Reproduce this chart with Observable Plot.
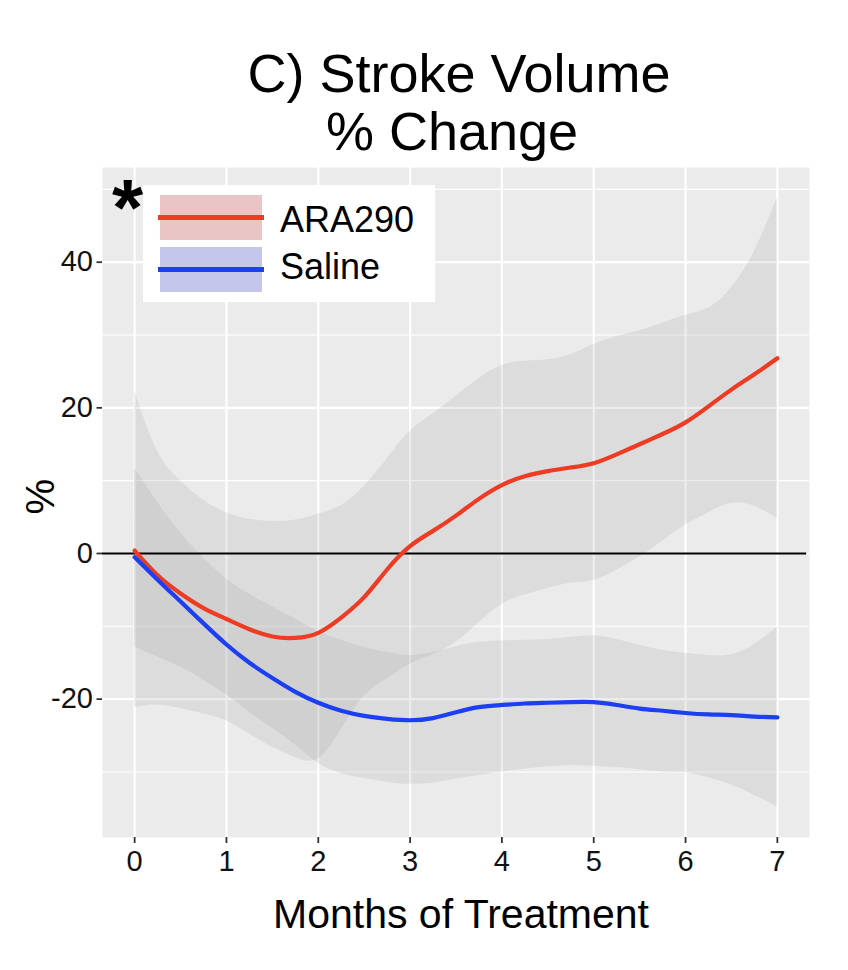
<!DOCTYPE html>
<html>
<head>
<meta charset="utf-8">
<script src="https://cdn.jsdelivr.net/npm/d3@7"></script>
<script src="https://cdn.jsdelivr.net/npm/@observablehq/plot@0.6"></script>
<style>
  html, body { margin: 0; padding: 0; background: #ffffff; }
  #page { position: relative; width: 848px; height: 970px; font-family: "Liberation Sans", Arial, Helvetica, sans-serif; color: #000; }
  .tline { position: absolute; width: 600px; text-align: center; font-size: 54px; line-height: 58px; white-space: nowrap; }
  #chart { position: absolute; left: 0; top: 160px; }
  #legend { position: absolute; left: 143px; top: 185px; width: 292px; height: 117px; background: #ffffff; }
  .key { position: absolute; left: 17px; width: 102px; height: 45px; }
  .keyline { position: absolute; left: 15px; width: 106px; height: 5px; }
  .lab { position: absolute; left: 137px; font-size: 36px; line-height: 36px; white-space: nowrap; }
  #star { position: absolute; left: 112px; top: 168px; font-size: 80px; line-height: 80px; font-weight: bold; }
</style>
</head>
<body>
<div id="page">
  <div class="tline" style="left:159px; top:44px;">C) Stroke Volume</div>
  <div class="tline" style="left:152px; top:102px;">% Change</div>
  <div id="chart"></div>
  <div id="star">*</div>
  <div id="legend"></div>
</div>
<script>
// ---- data ----
const months   = [0, 0.25, 0.5, 0.75, 1, 1.25, 1.5, 1.75, 2, 2.25, 2.5, 2.75, 3, 3.25, 3.5, 3.75, 4, 4.25, 4.5, 4.75, 5, 5.25, 5.5, 5.75, 6, 6.25, 6.5, 6.75, 7];
const araMean  = [0.4, -3, -5.5, -7.5, -9, -10.4, -11.4, -11.6, -10.9, -8.8, -6, -2.2, 1.0, 3.1, 5.2, 7.5, 9.4, 10.6, 11.3, 11.8, 12.4, 13.6, 15, 16.4, 18, 20.2, 22.5, 24.6, 26.8];
const araHigh  = [22.3, 14, 10, 7.3, 5.6, 4.7, 4.4, 4.6, 5.4, 6.6, 9.2, 13, 16.8, 19.2, 21.6, 24, 25.8, 26.4, 26.6, 27.3, 28.7, 29.8, 30.6, 31.6, 32.7, 33.7, 36.5, 41.5, 48.8];
const araLow   = [-21.2, -20.8, -21.3, -22, -23, -24.8, -26.6, -28, -28.2, -24.2, -19.6, -17.2, -15.2, -13.9, -12.2, -9.5, -7, -5.7, -4.8, -4.1, -3.7, -2.3, -0.5, 1.7, 3.9, 5.6, 6.9, 6.5, 4.8];
const salMean  = [-0.5, -3.6, -6.6, -9.6, -12.5, -15, -17.1, -19, -20.5, -21.6, -22.3, -22.7, -22.9, -22.6, -21.8, -21.1, -20.8, -20.6, -20.5, -20.4, -20.4, -20.8, -21.3, -21.6, -21.9, -22.1, -22.2, -22.4, -22.5];
const salHigh  = [11.7, 7, 2.8, -0.6, -3.5, -5.6, -7.3, -9, -10.7, -11.9, -12.9, -13.6, -14, -13.6, -12.8, -12.2, -12, -11.9, -11.8, -11.5, -11.3, -11.8, -12.6, -13.3, -13.7, -14, -13.9, -12.5, -10.1];
const salLow   = [-12.8, -14.2, -15.6, -17.4, -19.4, -21.8, -24, -26.3, -28.8, -30.2, -30.9, -31.4, -31.7, -31.5, -31, -30.5, -30, -29.6, -29.3, -29.1, -29.2, -29.4, -29.7, -30, -30.1, -30.8, -31.8, -33.2, -34.8];

const groups   = ["ARA290", "Saline"];
const colors   = ["#EE3B23", "#1C3FF2"];
const keyFills = ["#E9C5C6", "#C4C6EC"];
const xTicks   = [0, 1, 2, 3, 4, 5, 6, 7];
const yTicks   = [-20, 0, 20, 40];
const yMinor   = [-30, -10, 10, 30, 50];
const xLabel   = "Months of Treatment";
const yLabel   = "%";

// ---- build tables ----
const ara = months.map((m, i) => ({month: m, mean: araMean[i], low: araLow[i], high: araHigh[i]}));
const sal = months.map((m, i) => ({month: m, mean: salMean[i], low: salLow[i], high: salHigh[i]}));
const xDom = [-0.35, 7.35];
const yDom = [-39, 53];
const curve = "natural";
const font = "Liberation Sans, Arial, Helvetica, sans-serif";

const chart = Plot.plot({
  width: 848,
  height: 810,
  marginTop: 7,
  marginBottom: 133,
  marginLeft: 102,
  marginRight: 39,
  style: {fontFamily: font, color: "#111", background: "transparent", overflow: "visible"},
  x: {domain: xDom, axis: null},
  y: {domain: yDom, axis: null},
  marks: [
    Plot.frame({fill: "#EBEBEB", stroke: null}),
    Plot.ruleY(yMinor, {stroke: "#ffffff", strokeWidth: 1.1}),
    Plot.ruleY(yTicks, {stroke: "#ffffff", strokeWidth: 2.2}),
    Plot.ruleX(xTicks, {stroke: "#ffffff", strokeWidth: 2.2}),
    Plot.areaY(ara, {x: "month", y1: "low", y2: "high", fill: "#999999", fillOpacity: 0.18, curve}),
    Plot.areaY(sal, {x: "month", y1: "low", y2: "high", fill: "#999999", fillOpacity: 0.18, curve}),
    Plot.ruleY([0], {x1: -0.35, x2: 7.32, stroke: "#000000", strokeWidth: 2.2}),
    Plot.line(ara, {x: "month", y: "mean", stroke: colors[0], strokeWidth: 4.2, curve}),
    Plot.line(sal, {x: "month", y: "mean", stroke: colors[1], strokeWidth: 4.2, curve}),
    Plot.axisX({ticks: xTicks, tickSize: 6, tickPadding: 7, fontSize: 29, stroke: "#333", strokeWidth: 1.8, label: null, tickFormat: d => String(d)}),
    Plot.axisY({ticks: yTicks, tickSize: 5.5, tickPadding: 4, fontSize: 29, stroke: "#333", strokeWidth: 1.8, label: null, tickFormat: d => String(d)}),
    Plot.text([xLabel], {frameAnchor: "bottom", lineAnchor: "bottom", dy: 90, dx: 5, fontSize: 41, fill: "#000"}),
    Plot.text([yLabel], {frameAnchor: "left", lineAnchor: "middle", rotate: -90, dx: -61, dy: 12, fontSize: 40, fill: "#000"})
  ]
});
document.getElementById("chart").appendChild(chart);

// ---- legend ----
const legend = document.getElementById("legend");
const keyTops = [10, 62];
const labTops = [17, 64];
groups.forEach((g, i) => {
  const key = document.createElement("div");
  key.className = "key";
  key.style.top = keyTops[i] + "px";
  key.style.background = keyFills[i];
  legend.appendChild(key);
  const ln = document.createElement("div");
  ln.className = "keyline";
  ln.style.top = (keyTops[i] + 20) + "px";
  ln.style.background = colors[i];
  legend.appendChild(ln);
  const lab = document.createElement("div");
  lab.className = "lab";
  lab.style.top = labTops[i] + "px";
  lab.textContent = g;
  legend.appendChild(lab);
});
</script>
</body>
</html>
